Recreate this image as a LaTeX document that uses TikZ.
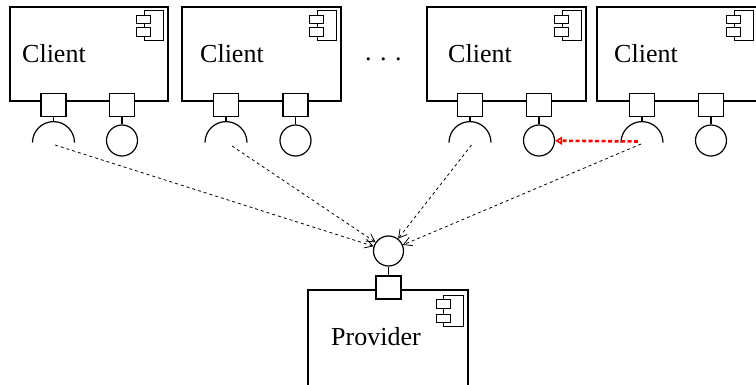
\documentclass[tikz,border=0pt]{standalone}
\usepackage{fontspec}
\setmainfont{Liberation Serif}
\usetikzlibrary{arrows.meta}
\begin{document}
\begin{tikzpicture}[x=1pt,y=-1pt,
  comp/.style={draw, line width=1.2pt, minimum height=94pt, inner sep=0pt},
  port/.style={draw, fill=white, line width=1.2pt, minimum width=25pt, minimum height=23pt, inner sep=0pt},
  lolli/.style={draw, circle, line width=1.2pt, minimum size=31pt, inner sep=0pt},
  iconline/.style={line width=1pt},
  lbl/.style={font=\fontsize{26}{30}\selectfont, anchor=base west, inner sep=0pt},
  dep/.style={line width=0.8pt, dash pattern=on 3pt off 3pt, -{Straight Barb[length=8pt,width=9pt]}},
  redarr/.style={red, line width=2.6pt, dash pattern=on 4pt off 2.5pt, -{Triangle[open,length=7pt,width=8pt,line width=1.6pt]}}
]
\clip (0,0) rectangle (756,385);
\fill[white] (0,0) rectangle (756,385);
% clients
\foreach \n/\cx/\w/\pa/\pb/\tx in {1/89/158/53.5/122/22, 2/261.5/159/226/295.5/200, 3/506.5/159/470/539/448, 4/677.5/161/642/711/614} {
  \node[comp, minimum width=\w pt] (c\n) at (\cx,54) {};
  \begin{scope}[shift={(c\n.north east)}]
    \draw[iconline] (-24,4) rectangle (-5,34);
    \draw[iconline, fill=white] (-32,9) rectangle (-18,17);
    \draw[iconline, fill=white] (-32,21) rectangle (-18,30);
  \end{scope}
  \node[lbl] (n\n) at (\tx,63) {Client};
  \node[port] (p\n a) at (\pa,105) {};
  \node[port] (p\n b) at (\pb,105) {};
  \node[lolli] (l\n) at (\pb,140.5) {};
  \draw[line width=1.2pt] (p\n b.south) -- (l\n.north);
  \draw[line width=1.2pt] (p\n a.south) -- ++(0,4.5) coordinate (t\n);
  \draw[line width=1.2pt] (t\n) arc[start angle=90,end angle=180,radius=21pt]
                          (t\n) arc[start angle=90,end angle=0,radius=21pt];
}
\node[lbl] (dots) at (365,61) {.\hspace{8.5pt}.\hspace{8.5pt}.};
% provider
\node[comp, minimum width=160pt, minimum height=110pt] (prov) at (388,345) {};
\begin{scope}[shift={(prov.north east)}]
  \draw[iconline] (-25,6) rectangle (-5,37);
  \draw[iconline, fill=white] (-32,10) rectangle (-18,19);
  \draw[iconline, fill=white] (-32,25) rectangle (-18,33);
\end{scope}
\node[lbl] (pname) at (331,345) {Provider};
\node[port] (pp) at (388.5,287.5) {};
\node[lolli, minimum size=30pt] (pc) at (388.5,251) {};
\draw[line width=1.2pt] (pp.north) -- (pc.south);
% dependencies
\coordinate (s1) at (55,145);
\coordinate (s2) at (232,146);
\coordinate (s3) at (471.5,145);
\coordinate (s4) at (641,144);
\foreach \i in {1,2,3,4} { \draw[dep] (s\i) -- (pc); }
\coordinate (r4) at (638,141.5);
\draw[redarr] (r4) -- (l3);
\end{tikzpicture}
\end{document}
